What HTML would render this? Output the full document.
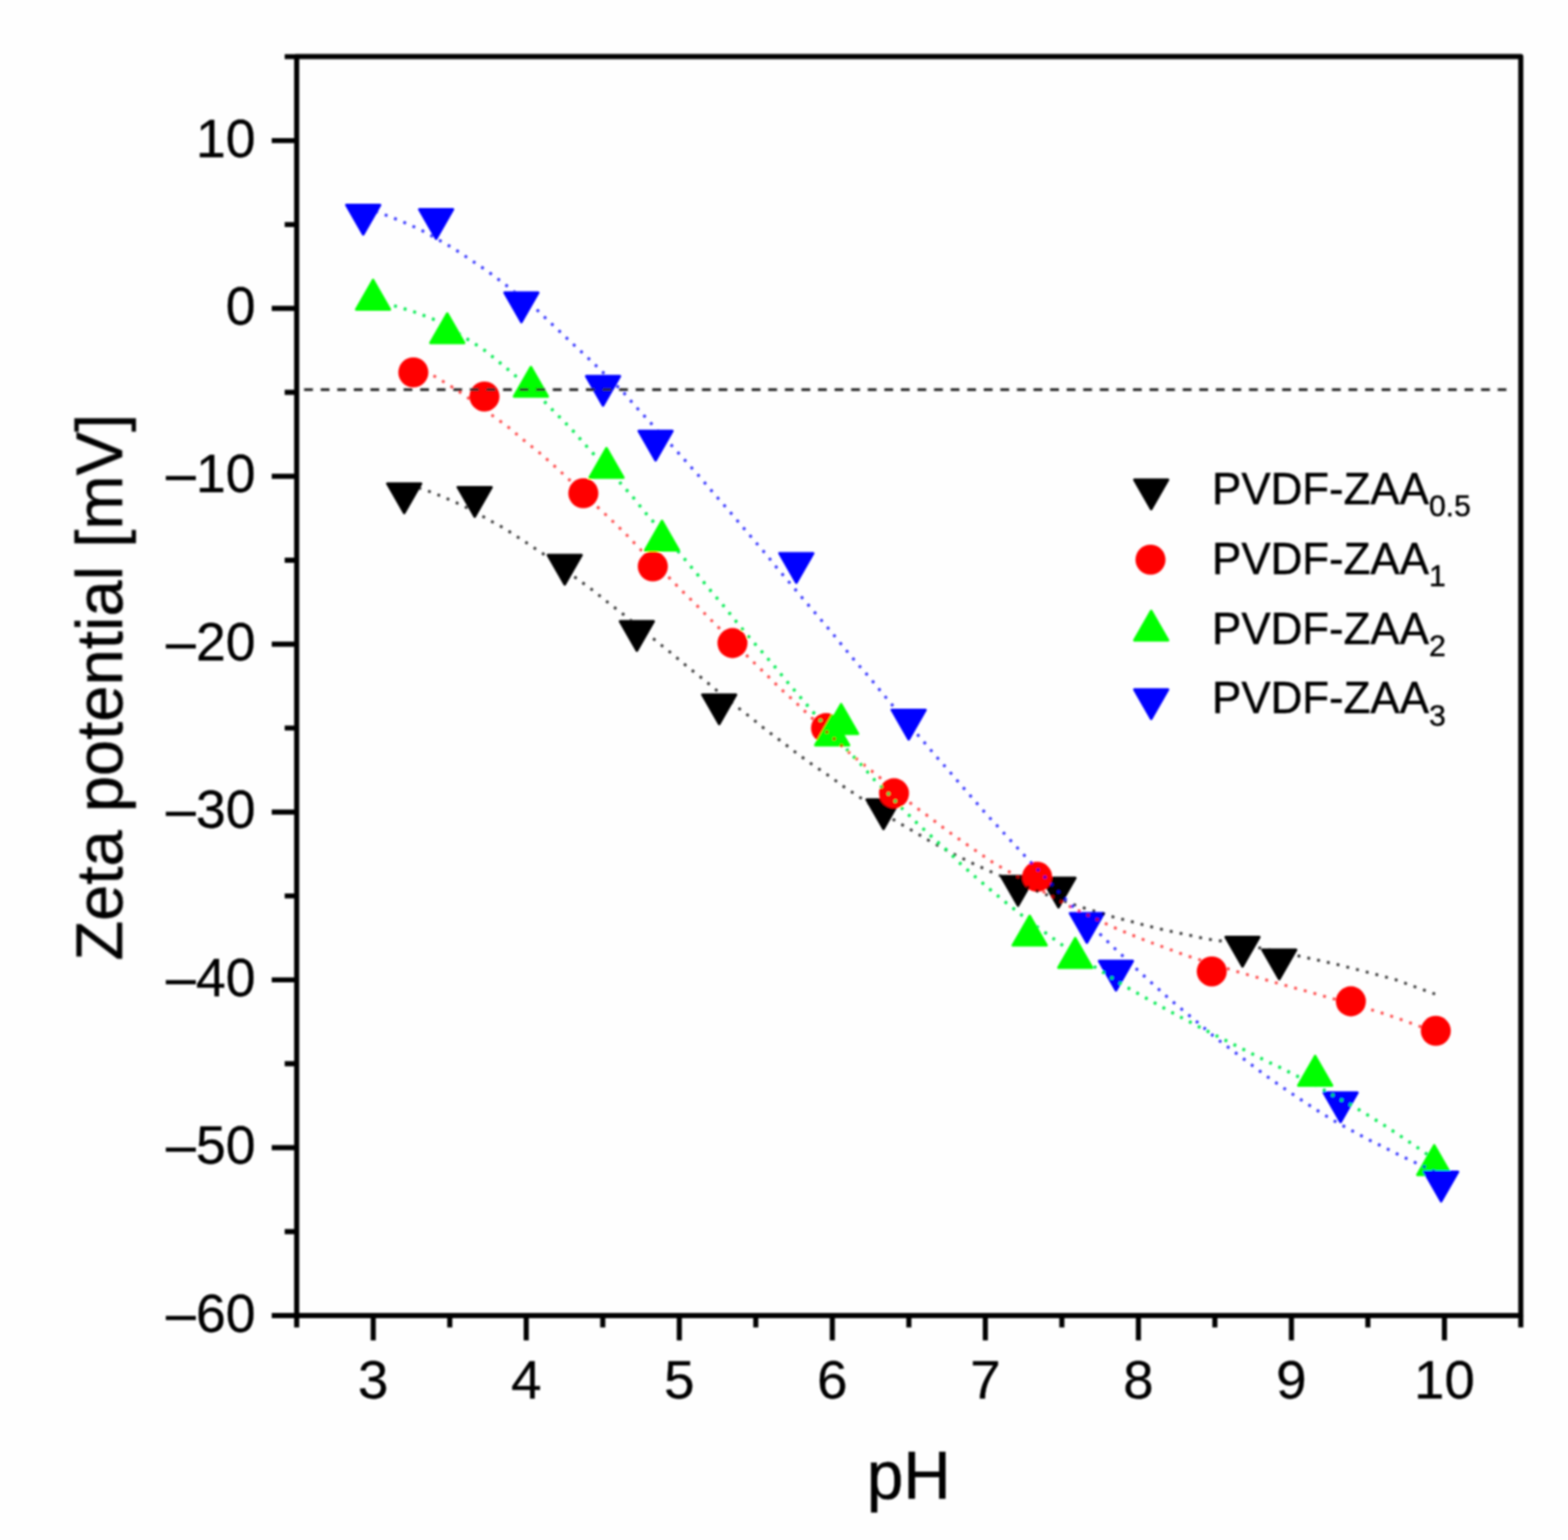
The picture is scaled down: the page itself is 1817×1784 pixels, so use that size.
<!DOCTYPE html>
<html lang="en"><head><meta charset="utf-8"><title>Zeta potential vs pH</title>
<style>
html,body{margin:0;padding:0;background:#fefefe;}
body{width:1817px;height:1784px;overflow:hidden;}
svg{display:block;width:1817px;height:1784px;}
text{font-family:"Liberation Sans",Arial,Helvetica,sans-serif;fill:#000;}
.tick{font-size:63.5px;stroke:#000;stroke-width:0.3px;}
.title{font-size:76.4px;stroke:#000;stroke-width:0.5px;}
.title2{font-size:78px;stroke:#000;stroke-width:0.5px;}
.leg{font-size:51.6px;stroke:#000;stroke-width:0.5px;}
.sub{font-size:35.5px;}
.ax{stroke:#000;stroke-width:5.9;fill:none;stroke-linejoin:round;}
.dot{fill:none;stroke-width:3.3;stroke-dasharray:3.3 8.3;stroke-linejoin:round;}
polygon{stroke-width:3.0;stroke-linejoin:round;}
</style></head><body>
<svg width="1817" height="1784" viewBox="0 0 1817 1784">
<defs><filter id="soft" x="-2%" y="-2%" width="104%" height="104%"><feGaussianBlur stdDeviation="0.85"/></filter></defs>
<rect x="0" y="0" width="1817" height="1784" fill="#fefefe"/>
<g filter="url(#soft)">
<g class="ax">
<rect x="343.8" y="65.5" width="1418.5" height="1458.5"/>
<path d="M329.9 65.6H343.8M314.9 162.9H343.8M329.9 260.1H343.8M314.9 357.3H343.8M329.9 454.5H343.8M314.9 551.8H343.8M329.9 649H343.8M314.9 746.2H343.8M329.9 843.4H343.8M314.9 940.7H343.8M329.9 1037.9H343.8M314.9 1135.1H343.8M329.9 1232.3H343.8M314.9 1329.5H343.8M329.9 1426.8H343.8M314.9 1524H343.8"/>
<path d="M343.8 1524V1537.8M432.5 1524V1552.8M521.2 1524V1537.8M609.8 1524V1552.8M698.5 1524V1537.8M787.2 1524V1552.8M875.8 1524V1537.8M964.5 1524V1552.8M1053.2 1524V1537.8M1141.8 1524V1552.8M1230.5 1524V1537.8M1319.2 1524V1552.8M1407.8 1524V1537.8M1496.5 1524V1552.8M1585.1 1524V1537.8M1673.8 1524V1552.8M1762.3 1524V1537.8"/>
</g>
<g class="tick" text-anchor="end">
<text transform="translate(296.3 181.5) scale(0.982 1)">10</text>
<text transform="translate(296.3 375.9) scale(0.982 1)">0</text>
<text transform="translate(296.3 570.4) scale(0.982 1)">–10</text>
<text transform="translate(296.3 764.8) scale(0.982 1)">–20</text>
<text transform="translate(296.3 959.3) scale(0.982 1)">–30</text>
<text transform="translate(296.3 1153.7) scale(0.982 1)">–40</text>
<text transform="translate(296.3 1348.1) scale(0.982 1)">–50</text>
<text transform="translate(296.3 1542.6) scale(0.982 1)">–60</text>
</g>
<g class="tick" text-anchor="middle">
<text x="432.5" y="1619.6">3</text>
<text x="609.8" y="1619.6">4</text>
<text x="787.2" y="1619.6">5</text>
<text x="964.5" y="1619.6">6</text>
<text x="1141.8" y="1619.6">7</text>
<text x="1319.2" y="1619.6">8</text>
<text x="1496.5" y="1619.6">9</text>
<text x="1673.8" y="1619.6">10</text>
</g>
<text class="title" text-anchor="middle" transform="translate(141.4 796.2) rotate(-90) scale(0.988 1)">Zeta potential [mV]</text>
<text class="title2" text-anchor="middle" transform="translate(1053.0 1736.2) scale(0.975 1)">pH</text>
<defs>
<g id="mk"><polygon points="448.9,560.2 487.9,560.2 468.4,594.2" /><polygon points="530.6,564.4 569.6,564.4 550.1,598.4" /><polygon points="634.9,643 673.9,643 654.4,677" /><polygon points="718.5,719.7 757.5,719.7 738,753.7" /><polygon points="813.9,804.7 852.9,804.7 833.4,838.7" /><polygon points="1004.3,926.3 1043.3,926.3 1023.8,960.3" /><polygon points="1160.2,1015.1 1199.2,1015.1 1179.7,1049.1" /><polygon points="1207.1,1016.9 1246.1,1016.9 1226.6,1050.9" /><polygon points="1420.3,1085.5 1459.3,1085.5 1439.8,1119.5" /><polygon points="1462.9,1100.2 1501.9,1100.2 1482.4,1134.2" /></g>
<g id="mr"><circle cx="479" cy="431.4" r="17.4" stroke="none"/><circle cx="561.4" cy="459.3" r="17.4" stroke="none"/><circle cx="676" cy="571.4" r="17.4" stroke="none"/><circle cx="756.5" cy="656.2" r="17.4" stroke="none"/><circle cx="848.8" cy="745" r="17.4" stroke="none"/><circle cx="957.2" cy="843.5" r="17.4" stroke="none"/><circle cx="1036" cy="919" r="17.4" stroke="none"/><circle cx="1201.8" cy="1015.7" r="17.4" stroke="none"/><circle cx="1404.2" cy="1125.3" r="17.4" stroke="none"/><circle cx="1565.4" cy="1160" r="17.4" stroke="none"/><circle cx="1663.8" cy="1194.2" r="17.4" stroke="none"/></g>
<g id="mg"><polygon points="412.8,358.4 451.8,358.4 432.3,324.4" /><polygon points="498.8,397.2 537.8,397.2 518.3,363.2" /><polygon points="595.7,459.3 634.7,459.3 615.2,425.3" /><polygon points="683.3,553.3 722.3,553.3 702.8,519.3" /><polygon points="747.6,637.6 786.6,637.6 767.1,603.6" /><polygon points="944.8,863.2 983.8,863.2 964.3,829.2" /><polygon points="955.2,849.9 994.2,849.9 974.7,815.9" /><polygon points="1173.7,1095.1 1212.7,1095.1 1193.2,1061.1" /><polygon points="1226.5,1120.9 1265.5,1120.9 1246,1086.9" /><polygon points="1504.5,1257.4 1543.5,1257.4 1524,1223.4" /><polygon points="1642.5,1360.9 1681.5,1360.9 1662,1326.9" /></g>
<g id="mb"><polygon points="401.4,237.4 440.4,237.4 420.9,271.4" /><polygon points="485.9,242.5 524.9,242.5 505.4,276.5" /><polygon points="584.7,339.1 623.7,339.1 604.2,373.1" /><polygon points="679.3,435.8 718.3,435.8 698.8,469.8" /><polygon points="740.2,499.2 779.2,499.2 759.7,533.2" /><polygon points="903.3,640.9 942.3,640.9 922.8,674.9" /><polygon points="1033.5,822.4 1072.5,822.4 1053,856.4" /><polygon points="1240,1058 1279,1058 1259.5,1092" /><polygon points="1273.7,1113.3 1312.7,1113.3 1293.2,1147.3" /><polygon points="1534,1265.8 1573,1265.8 1553.5,1299.8" /><polygon points="1650.5,1357.6 1689.5,1357.6 1670,1391.6" /></g>
<mask id="xk" maskUnits="userSpaceOnUse" x="0" y="0" width="1817" height="1784"><rect width="1817" height="1784" fill="#fff"/><use href="#mk" fill="#000" stroke="#000"/><use href="#mr" fill="#fff" stroke="#fff"/><use href="#mg" fill="#fff" stroke="#fff"/><use href="#mb" fill="#fff" stroke="#fff"/></mask>
<mask id="xr" maskUnits="userSpaceOnUse" x="0" y="0" width="1817" height="1784"><rect width="1817" height="1784" fill="#fff"/><use href="#mr" fill="#000" stroke="#000"/><use href="#mg" fill="#fff" stroke="#fff"/><use href="#mb" fill="#fff" stroke="#fff"/></mask>
<mask id="xg" maskUnits="userSpaceOnUse" x="0" y="0" width="1817" height="1784"><rect width="1817" height="1784" fill="#fff"/><use href="#mg" fill="#000" stroke="#000"/><use href="#mb" fill="#fff" stroke="#fff"/></mask>
<mask id="xb" maskUnits="userSpaceOnUse" x="0" y="0" width="1817" height="1784"><rect width="1817" height="1784" fill="#fff"/><use href="#mb" fill="#000" stroke="#000"/></mask>
</defs>
<use href="#mk" fill="#000000" stroke="#000000"/>
<use href="#mr" fill="#ff0000" stroke="#ff0000"/>
<use href="#mg" fill="#00ff00" stroke="#00ff00"/>
<use href="#mb" fill="#0000ff" stroke="#0000ff"/>
<g class="dot" opacity="1">
<g mask="url(#xk)"><path d="M470 561 L491.6 567.1 L512.7 575.2 L534.2 584.8 L550 592.5 L564.6 601.3 L584.1 611.9 L603.8 624.6 L622.8 637.2 L631.6 643 L650 656.5 L667.6 669.6 L686.6 683.5 L704.6 698 L722 711.4 L740 726 L759.5 741.8 L777.7 756.5 L795.7 771.6 L814.4 786.4 L832.9 801.8 L851.9 817.2 L869.6 830.9 L887.3 845.3 L905.8 859.2 L923.5 872.7 L942.5 886.6 L962 899.7 L981 913.7 L991.6 920.3 L1015 936.5 L1038 951.1 L1057.7 962.5 L1077.7 974.4 L1097.5 985.3 L1109.2 991.4 L1129.9 1001.5 L1151.9 1011.4 L1180 1023.5 L1210 1035.5 L1239.7 1046.3 L1257.7 1052.4 L1269.1 1055.7 L1291.1 1062.5 L1307.6 1066.6 L1329.6 1072.7 L1351.4 1077.7 L1373.7 1082.5 L1396 1087.3 L1417.5 1090.5 L1440 1094.5 L1462 1098.5 L1484 1103 L1506.8 1107.8 L1529.1 1112.7 L1551 1117.7 L1574 1123.5 L1595.7 1129.1 L1617.2 1134.9 L1639.3 1143 L1664.5 1152.1" stroke="#000000" opacity="0.78" stroke-dashoffset="-4" stroke-width="3.3"/></g>
<g mask="url(#xr)"><path d="M481 426 L502 434.9 L521.5 446.8 L541 459.8 L555 470 L569.3 480.4 L589.1 494.9 L606.3 509.4 L624.6 524.1 L641.8 539.2 L657.5 553.7 L674 569.5 L691.1 586.1 L708.1 602 L724.8 618.2 L741 635.4 L757 651 L773.4 667.1 L789.9 684.1 L805.7 699.6 L822 716.3 L830.4 724.7 L851 745 L871.6 765.6 L888.6 782 L904.6 798 L921.5 813.2 L938.5 829.6 L955 845 L972 861 L988.6 875.9 L1008.1 891.6 L1017.7 899.2 L1038 916.5 L1059.5 933.9 L1078 947.3 L1096.2 961.3 L1114.5 974.3 L1134.2 987.8 L1152.5 1000.5 L1172.2 1011.4 L1196 1025.5 L1220.3 1039.2 L1241.8 1051.1 L1262 1060.8 L1284.1 1071.4 L1306.3 1081 L1331.6 1091.1 L1353.7 1099.2 L1375 1107.1 L1386.4 1110.6 L1408 1117.5 L1430.4 1124.6 L1452.7 1131.1 L1474.7 1137.3 L1496.5 1143.5 L1518.4 1149.4 L1541 1156 L1563 1161.5 L1584.8 1168.4 L1607.1 1175.4 L1628.6 1182.8 L1639.3 1186.8 L1663.8 1196" stroke="#ff0000" opacity="0.72" stroke-dashoffset="0" stroke-width="3.3"/></g>
<g mask="url(#xg)"><path d="M434 349.5 L455.7 353.9 L477.2 360.3 L500.8 369.1 L520 379 L540 391.9 L560 404.6 L577 418.3 L594.2 432.6 L611 447.5 L628.5 462.8 L645.3 480 L661.5 496.2 L677.7 514.7 L693 531.5 L705 544.5 L717.7 558.2 L732.9 575.2 L747.6 593.7 L762 610 L777 628 L791.6 645.6 L807 664 L822 682.5 L837.2 700.3 L852.4 719.2 L868.4 738.5 L882.8 754.9 L898.2 772.7 L912.7 790.4 L927.8 808.1 L943 825.8 L962 847 L981.5 868.4 L997.5 885.3 L1013.4 903.5 L1029.6 919.5 L1045.6 936.7 L1062 952.9 L1078.5 968.1 L1097.5 985.3 L1113.6 1001.1 L1131.1 1016.5 L1148.1 1031.1 L1166.6 1046.3 L1184.8 1060.8 L1199 1071.5 L1213.2 1081.8 L1231.1 1094.9 L1250 1108 L1270 1121 L1287 1132 L1303.8 1142.5 L1323.5 1153.7 L1343 1164.6 L1363.3 1175.7 L1384.1 1186.7 L1405.3 1197.8 L1426.6 1208.4 L1446.6 1218.5 L1466.1 1228.5 L1486.1 1238 L1496.2 1243.2 L1512 1251 L1529 1259.5 L1548.1 1270.9 L1568.4 1281.5 L1588.1 1293.7 L1607.6 1305.8 L1625.3 1317.7 L1644.8 1330.9 L1662 1343" stroke="#00ea50" opacity="1" stroke-dashoffset="0" stroke-width="3.6"/></g>
<g mask="url(#xb)"><path d="M424 241 L443 247.6 L465.8 256.5 L487.3 266.1 L506.3 276.7 L526.1 288.1 L545.1 300.8 L564.6 313.9 L584.8 329.1 L604 344.5 L621 357.7 L636.7 372.9 L653.9 388.9 L670.9 405 L687.3 420.3 L704 436.5 L721 452.9 L736 470.2 L751.9 487.7 L767 504 L782.3 520.3 L797.5 537.5 L812.2 553.9 L827.3 571.8 L842 588.6 L857.5 606.7 L872.2 624.1 L887.3 641.5 L902 660 L917.7 678.2 L931.6 694.9 L946.8 712.7 L962 730.4 L976.7 748.6 L992.4 767.6 L1008.1 785.3 L1023.5 804.3 L1036.7 820 L1052 838 L1067.8 856.2 L1083.5 874.7 L1098 891.1 L1113.2 908.9 L1128.4 926.3 L1143.8 944.1 L1160.3 961.8 L1176.5 979.5 L1191.6 995.8 L1207.6 1012.7 L1224.1 1030.4 L1239.2 1046.3 L1256 1063.5 L1272.9 1080.3 L1289.1 1096.2 L1303.3 1109.6 L1320.8 1126.1 L1337.2 1141 L1354.9 1157 L1373.4 1172.5 L1390.6 1186.8 L1408.9 1202.5 L1428.5 1217.2 L1448.3 1232 L1467 1246.2 L1486.1 1259.5 L1505.7 1272.7 L1525 1285.5 L1545.3 1298.1 L1565.1 1308.9 L1586.1 1320.3 L1606.4 1330.4 L1626.6 1340.5 L1648.1 1350.6 L1668 1359.5" stroke="#0000ff" opacity="0.8" stroke-dashoffset="0" stroke-width="3.4"/></g>
</g>
<path d="M352.4 451.3H1745.6" fill="none" stroke="#2a2a2a" stroke-width="3.2" stroke-dasharray="10.2 9.01"/>
<g fill="#000" stroke="#000"><polygon points="1314.5,555.8 1353.5,555.8 1334,589.8" /></g>
<g fill="#ff0000"><circle cx="1333.2" cy="648.4" r="17.4" stroke="none"/></g>
<g fill="#00ff00" stroke="#00ff00"><polygon points="1314.5,741.8 1353.5,741.8 1334,707.8" /></g>
<g fill="#0000ff" stroke="#0000ff"><polygon points="1314.5,798.8 1353.5,798.8 1334,832.8" /></g>
<text class="leg" transform="translate(1404.6 584.2) scale(0.985 1)">PVDF-ZAA<tspan class="sub" dy="14.2">0.5</tspan></text>
<text class="leg" transform="translate(1404.6 664.9) scale(0.985 1)">PVDF-ZAA<tspan class="sub" dy="14.2">1</tspan></text>
<text class="leg" transform="translate(1404.6 745.6) scale(0.985 1)">PVDF-ZAA<tspan class="sub" dy="14.2">2</tspan></text>
<text class="leg" transform="translate(1404.6 826.3) scale(0.985 1)">PVDF-ZAA<tspan class="sub" dy="14.2">3</tspan></text>
</g>
</svg>
</body></html>
